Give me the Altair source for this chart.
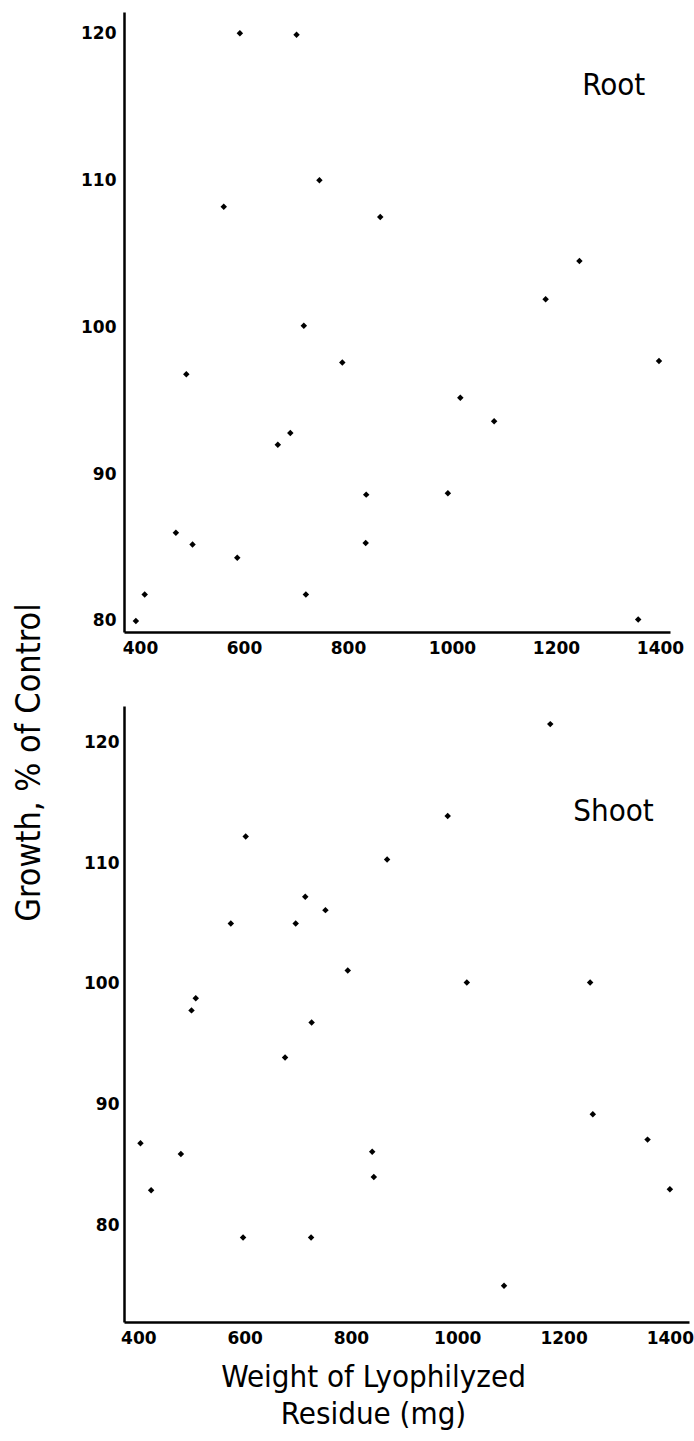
import altair as alt
import pandas as pd

# Root growth vs. lyophilized residue weight
root_mg = [592, 701, 745, 561, 862, 1245, 1180, 715, 789, 489, 1398, 1016, 1081,
           689, 665, 835, 992, 469, 501, 834, 587, 409, 719, 392, 1358]
root_pct = [120.0, 119.9, 110.0, 108.2, 107.5, 104.5, 101.9, 100.1, 97.6, 96.8, 97.7, 95.2, 93.6,
            92.8, 92.0, 88.6, 88.7, 86.0, 85.2, 85.3, 84.3, 81.8, 81.8, 80.0, 80.1]

# Shoot growth vs. lyophilized residue weight
shoot_mg = [1175, 982, 602, 868, 714, 752, 574, 696, 794, 1018, 1250, 508, 500,
            726, 676, 1255, 404, 1358, 480, 840, 843, 424, 1400, 597, 725, 1088]
shoot_pct = [121.5, 113.9, 112.2, 110.3, 107.2, 106.1, 105.0, 105.0, 101.1, 100.1, 100.1, 98.8, 97.8,
             96.8, 93.9, 89.2, 86.8, 87.1, 85.9, 86.1, 84.0, 82.9, 83.0, 79.0, 79.0, 75.0]

x_ticks = [400, 600, 800, 1000, 1200, 1400]
y_ticks = [80, 90, 100, 110, 120]

panel_names = ["Root", "Shoot"]
panel_label_mg = [1311, 1294]
panel_label_pct = [116.4, 114.2]

root = pd.DataFrame({"mg": root_mg, "pct": root_pct})
shoot = pd.DataFrame({"mg": shoot_mg, "pct": shoot_pct})

TITLE_FONT = "DejaVu Sans Condensed, Liberation Sans Narrow, sans-serif"
LABEL_FONT = "DejaVu Sans"


def panel(df, name, lx, ly, x_dom, y_dom, w, h, x_axis, y_axis):
    x = alt.X("mg:Q", scale=alt.Scale(domain=x_dom, nice=False, zero=False), axis=x_axis)
    y = alt.Y("pct:Q", scale=alt.Scale(domain=y_dom, nice=False, zero=False), axis=y_axis)
    pts = alt.Chart(df).mark_point(shape="diamond", filled=True, size=42,
                                   color="black", opacity=1).encode(x=x, y=y)
    lab = alt.Chart(pd.DataFrame({"mg": [lx], "pct": [ly], "name": [name]})).mark_text(
        font=TITLE_FONT, fontSize=31, color="black", align="center", baseline="middle"
    ).encode(x=alt.X("mg:Q"), y=alt.Y("pct:Q"), text="name:N")
    return alt.layer(pts, lab).properties(width=w, height=h)


top = panel(
    root, panel_names[0], panel_label_mg[0], panel_label_pct[0],
    [369.2, 1419.2], [79.25, 121.45], 546, 620,
    alt.Axis(values=x_ticks, title=None, labelPadding=8, format="d"),
    alt.Axis(values=y_ticks, title="Growth, % of Control", labelPadding=8,
             titleAngle=270, titleX=-95, titleY=750, titleAlign="center",
             titleBaseline="middle", titleFont=TITLE_FONT, titleFontSize=34,
             titleFontWeight="normal", titleColor="black"),
)

bottom = panel(
    shoot, panel_names[1], panel_label_mg[1], panel_label_pct[1],
    [373.0, 1436.0], [72.0, 123.0], 565, 616,
    alt.Axis(values=x_ticks, labelPadding=8, format="d",
             title=["Weight of Lyophilyzed", "Residue (mg)"],
             titleX=249, titleY=40, titleAlign="center", titleBaseline="top",
             titleFont=TITLE_FONT, titleFontSize=31, titleFontWeight="normal",
             titleLineHeight=37, titleColor="black"),
    alt.Axis(values=y_ticks, title=None, labelPadding=5),
)

chart = alt.vconcat(top, bottom, spacing=74, bounds="flush").properties(
    padding={"left": 12, "top": 12, "right": 0, "bottom": 4},
    background="white",
).configure_view(strokeWidth=0).configure_axis(
    domainColor="black", domainWidth=2.5, ticks=False, grid=False,
    labelFont=LABEL_FONT, labelFontWeight="bold", labelFontSize=17,
    labelColor="black",
)

chart.save("out.html", embed_options={"renderer": "svg", "actions": False})
